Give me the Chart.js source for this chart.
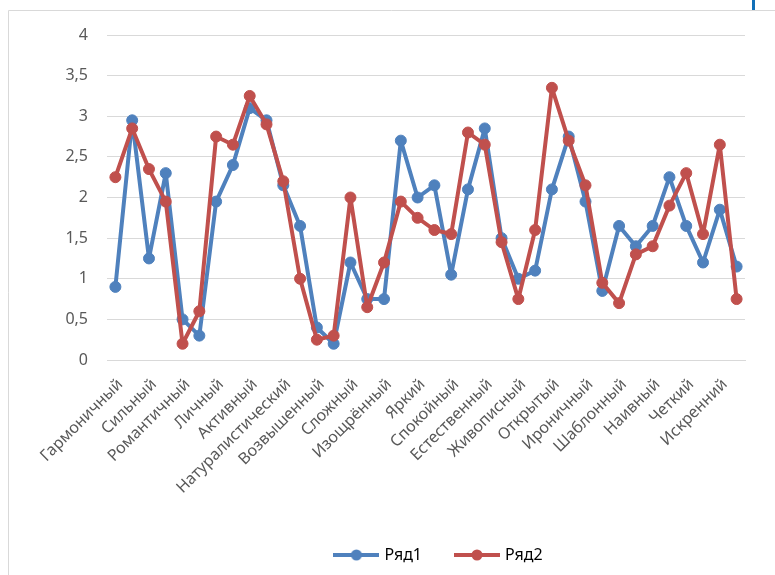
<!DOCTYPE html>
<html>
<head>
<meta charset="utf-8">
<script src="https://cdn.jsdelivr.net/npm/chart.js@4/dist/chart.umd.min.js"></script>
<style>
  html, body { margin: 0; padding: 0; background: #ffffff; }
  #wrap { position: relative; width: 775px; height: 575px; overflow: hidden; }
  canvas { display: block; }
</style>
</head>
<body>
<div id="wrap"><canvas id="chart" width="775" height="575"></canvas></div>
<script>
// Category names (every second category carries a visible name)
const categories = [
  'Гармоничный', '', 'Сильный', '', 'Романтичный', '', 'Личный', '',
  'Активный', '', 'Натуралистический', '', 'Возвышенный', '', 'Сложный', '',
  'Изощрённый', '', 'Яркий', '', 'Спокойный', '', 'Естественный', '',
  'Живописный', '', 'Открытый', '', 'Ироничный', '', 'Шаблонный', '',
  'Наивный', '', 'Четкий', '', 'Искренний', ''
];

const seriesNames = ['Ряд1', 'Ряд2'];

const row1 = [
  0.9, 2.95, 1.25, 2.3, 0.5, 0.3, 1.95, 2.4, 3.1, 2.95,
  2.15, 1.65, 0.4, 0.2, 1.2, 0.75, 0.75, 2.7, 2.0, 2.15,
  1.05, 2.1, 2.85, 1.5, 1.0, 1.1, 2.1, 2.75, 1.95, 0.85,
  1.65, 1.4, 1.65, 2.25, 1.65, 1.2, 1.85, 1.15
];

const row2 = [
  2.25, 2.85, 2.35, 1.95, 0.2, 0.6, 2.75, 2.65, 3.25, 2.9,
  2.2, 1.0, 0.25, 0.3, 2.0, 0.65, 1.2, 1.95, 1.75, 1.6,
  1.55, 2.8, 2.65, 1.45, 0.75, 1.6, 3.35, 2.7, 2.15, 0.95,
  0.7, 1.3, 1.4, 1.9, 2.3, 1.55, 2.65, 0.75
];

const yTicks = [0, 0.5, 1, 1.5, 2, 2.5, 3, 3.5, 4];

const BLUE = '#4f81bd';
const RED = '#c0504d';
const FONT = "'Noto Sans', 'Open Sans', sans-serif";

// Legend swatch: short line with a round marker in the middle
function swatch(color) {
  const c = document.createElement('canvas');
  c.width = 46; c.height = 12;
  const g = c.getContext('2d');
  g.strokeStyle = color;
  g.lineWidth = 4;
  g.beginPath(); g.moveTo(0, 6); g.lineTo(46, 6); g.stroke();
  g.fillStyle = color;
  g.beginPath(); g.arc(23, 6, 5.5, 0, Math.PI * 2); g.fill();
  return c;
}

// Thin frame around the chart object and the small selection mark
const framePlugin = {
  id: 'frame',
  beforeDraw(chart) {
    const ctx = chart.ctx;
    ctx.save();
    ctx.strokeStyle = '#d9d9d9';
    ctx.lineWidth = 1;
    ctx.beginPath();
    ctx.moveTo(8.5, 575); ctx.lineTo(8.5, 10.5); ctx.lineTo(775, 10.5);
    ctx.stroke();
    ctx.fillStyle = '#1170b8';
    ctx.fillRect(752, 0, 3, 10);
    ctx.restore();
  }
};

// Centre the legend under the whole chart object rather than the canvas
const legendShift = {
  id: 'legendShift',
  afterLayout(chart) {
    const lg = chart.legend;
    if (lg) { lg.left += 63; lg.right += 63; }
  }
};

function lineSeries(name, values, color, order) {
  return {
    label: name,
    data: values,
    borderColor: color,
    backgroundColor: color,
    pointBackgroundColor: color,
    pointBorderColor: color,
    borderWidth: 4,
    borderJoinStyle: 'round',
    borderCapStyle: 'round',
    pointRadius: 5.5,
    pointBorderWidth: 1,
    tension: 0,
    order: order
  };
}

new Chart(document.getElementById('chart'), {
  type: 'line',
  data: {
    labels: categories,
    datasets: [
      lineSeries(seriesNames[0], row1, BLUE, 1),
      lineSeries(seriesNames[1], row2, RED, 0)
    ]
  },
  options: {
    responsive: false,
    animation: false,
    layout: { padding: { left: 8, top: 35, right: 30, bottom: 2 } },
    plugins: {
      tooltip: { enabled: false },
      legend: {
        position: 'bottom',
        labels: {
          usePointStyle: true,
          pointStyleWidth: 40,
          padding: 35,
          color: '#404040',
          font: { family: FONT, size: 16 },
          generateLabels(chart) {
            return chart.data.datasets.map((ds, i) => ({
              text: ds.label,
              datasetIndex: i,
              pointStyle: swatch(ds.borderColor),
              fillStyle: ds.borderColor,
              strokeStyle: ds.borderColor,
              lineWidth: 0,
              hidden: false
            }));
          }
        }
      }
    },
    scales: {
      x: {
        type: 'category',
        offset: true,
        grid: { display: false },
        border: { display: true, color: '#d9d9d9', width: 1 },
        ticks: {
          autoSkip: false,
          maxRotation: 45,
          minRotation: 45,
          padding: 7,
          labelOffset: 5,
          color: '#595959',
          font: { family: FONT, size: 16 }
        },
        afterFit(scale) { scale.height = 152; }
      },
      y: {
        min: 0,
        max: 4,
        afterBuildTicks(scale) { scale.ticks = yTicks.map(v => ({ value: v })); },
        grid: { color: '#d9d9d9', lineWidth: 1, drawTicks: false },
        border: { display: false },
        ticks: {
          padding: 19,
          color: '#595959',
          font: { family: FONT, size: 16 },
          callback: v => String(v).replace('.', ',')
        },
        afterFit(scale) { scale.width = 99; }
      }
    }
  },
  plugins: [framePlugin, legendShift]
});
</script>
</body>
</html>
